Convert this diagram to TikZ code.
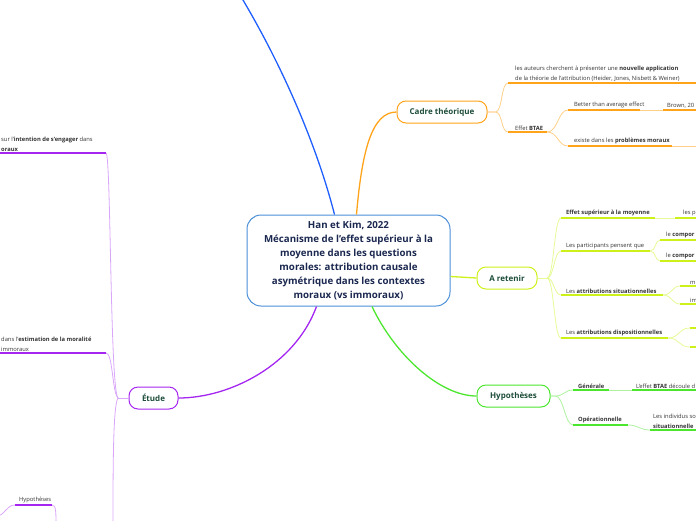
\documentclass[tikz,border=0pt]{standalone}
\usepackage{fontspec}
\setmainfont{Open Sans}
\usetikzlibrary{calc}
\definecolor{cblue}{HTML}{4A90D9}
\definecolor{navy}{HTML}{1B2850}
\definecolor{dgreen}{HTML}{1D4D3A}
\definecolor{txt}{HTML}{333333}
\definecolor{bluel}{HTML}{1F5EFF}
\definecolor{orng}{HTML}{FFA31A}
\definecolor{orngl}{HTML}{FFD08A}
\definecolor{ylw}{HTML}{CCF21A}
\definecolor{ylwl}{HTML}{E6FA96}
\definecolor{grn}{HTML}{4CE62E}
\definecolor{grnl}{HTML}{AEF2A0}
\definecolor{purp}{HTML}{A526F0}
\definecolor{purpl}{HTML}{D9A6FA}
\tikzset{
  mainbox/.style={draw=cblue, line width=1pt, rounded corners=14pt, fill=white,
    minimum width=203pt, minimum height=91pt, align=center, text=navy, inner sep=0pt,
    font=\fontsize{9.7}{14}\selectfont\bfseries},
  branchbox/.style={rounded corners=9pt, fill=white, line width=1pt, minimum height=22pt,
    inner sep=0pt, text=dgreen, font=\fontsize{8}{10}\selectfont\bfseries},
  lbl/.style={anchor=south west, inner sep=0pt, text=txt, align=left,
    font=\fontsize{5.8}{10}\selectfont},
  ul/.style={line width=1.6pt},
  cn/.style={line width=0.8pt},
  mc/.style={line width=1.3pt}
}
\begin{document}
\begin{tikzpicture}[x=1pt,y=-1pt]
\useasboundingbox (0,0) rectangle (696,520);

% ---------------- main nodes
\node[mainbox] (main) at (348.5,260.5) {Han et Kim, 2022\\Mécanisme de l'effet supérieur à la\\moyenne dans les questions\\morales: attribution causale\\asymétrique dans les contextes\\moraux (vs immoraux)};

\node[branchbox, draw=orng, minimum width=90pt] (cadre) at (442,112) {Cadre théorique};
\node[branchbox, draw=ylw, minimum width=60pt] (ret) at (507,278) {A retenir};
\node[branchbox, draw=grn, minimum width=73pt] (hyp) at (513.5,396) {Hypothèses};
\node[branchbox, draw=purp, minimum width=49pt] (etude) at (153.5,398) {Étude};

% ---------------- connectors from center
\coordinate (blueend) at (240,-5);
\draw[bluel, mc] ($(main.north)+(-14,0)$) .. controls (318,150) and (285,70) .. (blueend);
\draw[orng, mc] ($(main.north)+(8,0)$) .. controls (362,150) and (372,112) .. (cadre.west);
\draw[ylw, mc] ($(main.east)+(0,16)$) -- (ret.west);
\draw[grn, mc] ($(main.south)+(23.5,0)$) .. controls (395,355) and (440,396) .. (hyp.west);
\draw[purp, mc] ($(main.south)+(-32,0)$) .. controls (295,365) and (230,398) .. (etude.east);

% ---------------- Cadre theorique
\coordinate (c1a) at (508,83);  \coordinate (c1b) at (700,83);
\coordinate (c2a) at (508,132); \coordinate (c2b) at (547,132);
\coordinate (c21a) at (568,110); \coordinate (c21b) at (640,110);
\coordinate (c21c) at (663,110); \coordinate (c21d) at (700,110);
\coordinate (c22a) at (568,146); \coordinate (c22b) at (672,146); \coordinate (c22c) at (700,146);
\draw[orngl, cn] (cadre.east) -- ++(8,0) .. controls +(7,0) and +(-7,0) .. (c1a);
\draw[orngl, cn] (cadre.east) -- ++(8,0) .. controls +(7,0) and +(-7,0) .. (c2a);
\draw[orngl, cn] (c2b) .. controls +(11,0) and +(-10,0) .. (c21a);
\draw[orngl, cn] (c2b) .. controls +(11,0) and +(-10,0) .. (c22a);
\draw[orngl, cn] (c21b) -- (c21c);
\draw[orngl, cn] (c22b) -- (c22c);
\draw[orng, ul] (c1a) -- (c1b);
\draw[orng, ul] (c2a) -- (c2b);
\draw[orng, ul] (c21a) -- (c21b);
\draw[orng, ul] (c21c) -- (c21d);
\draw[orng, ul] (c22a) -- (c22b);
\node[lbl] (t1) at (515,81.5) {les auteurs cherchent à présenter une \textbf{nouvelle application}\\de la théorie de l'attribution (Heider, Jones, Nisbett \& Weiner)};
\node[lbl] (t2) at (515,130.5) {Effet \textbf{BTAE}};
\node[lbl] (t21) at (574,108.5) {Better than average effect};
\node[lbl] (t21b) at (667,108.5) {Brown, 20};
\node[lbl] (t22) at (574,144.5) {existe dans les \textbf{problèmes moraux}};

% ---------------- A retenir
\coordinate (rs) at (547,278);
\coordinate (r1a) at (561,218); \coordinate (r1b) at (655,218); \coordinate (r1c) at (675,218); \coordinate (r1d) at (700,218);
\coordinate (r2a) at (561,251); \coordinate (r2b) at (650,251);
\coordinate (r21a) at (660,240); \coordinate (r21b) at (700,240);
\coordinate (r22a) at (660,261); \coordinate (r22b) at (700,261);
\coordinate (r3a) at (561,295); \coordinate (r3b) at (663,295);
\coordinate (r31a) at (680,286); \coordinate (r31b) at (700,286);
\coordinate (r32a) at (680,304); \coordinate (r32b) at (700,304);
\coordinate (r4a) at (561,338); \coordinate (r4b) at (668,338);
\coordinate (r41a) at (690,328); \coordinate (r41b) at (700,328);
\coordinate (r42a) at (690,347); \coordinate (r42b) at (700,347);
\draw[ylwl, cn] (ret.east) -- (rs);
\foreach \t in {r1a,r2a,r3a,r4a}{
  \draw[ylwl, cn] (rs) .. controls +(7,0) and +(-7,0) .. (\t);
}
\draw[ylwl, cn] (r1b) -- (r1c);
\draw[ylwl, cn] (r2b) .. controls +(6,0) and +(-5,0) .. (r21a);
\draw[ylwl, cn] (r2b) .. controls +(6,0) and +(-5,0) .. (r22a);
\draw[ylwl, cn] (r3b) .. controls +(9,0) and +(-8,0) .. (r31a);
\draw[ylwl, cn] (r3b) .. controls +(9,0) and +(-8,0) .. (r32a);
\draw[ylwl, cn] (r4b) .. controls +(12,0) and +(-12,0) .. (r41a);
\draw[ylwl, cn] (r4b) .. controls +(12,0) and +(-12,0) .. (r42a);
\foreach \a/\b in {r1a/r1b,r1c/r1d,r2a/r2b,r21a/r21b,r22a/r22b,r3a/r3b,r31a/r31b,r32a/r32b,r4a/r4b,r41a/r41b,r42a/r42b}{
  \draw[ylw, ul] (\a) -- (\b);
}
\node[lbl] (tr1) at (566,216.5) {\textbf{Effet supérieur à la moyenne}};
\node[lbl] (tr1b) at (683,216.5) {les p};
\node[lbl] (tr2) at (566,249.5) {Les participants pensent que};
\node[lbl] (tr21) at (666,238.5) {le \textbf{compor}};
\node[lbl] (tr22) at (666,259.5) {le \textbf{compor}};
\node[lbl] (tr3) at (566,293.5) {Les \textbf{attributions situationnelles}};
\node[lbl] (tr31) at (690,284.5) {m};
\node[lbl] (tr32) at (690,302.5) {im};
\node[lbl] (tr4) at (566,336.5) {Les \textbf{attributions dispositionnelles}};

% ---------------- Hypotheses
\coordinate (h1a) at (573,390); \coordinate (h1b) at (609,390); \coordinate (h1c) at (632,390); \coordinate (h1d) at (700,390);
\coordinate (h2a) at (573,425); \coordinate (h2b) at (628,425); \coordinate (h2c) at (650,430); \coordinate (h2d) at (700,430);
\draw[grnl, cn] (hyp.east) -- ++(5,0) .. controls +(8,0) and +(-8,0) .. (h1a);
\draw[grnl, cn] (hyp.east) -- ++(5,0) .. controls +(8,0) and +(-8,0) .. (h2a);
\draw[grnl, cn] (h1b) -- (h1c);
\draw[grnl, cn] (h2b) .. controls +(10,0) and +(-10,0) .. (h2c);
\foreach \a/\b in {h1a/h1b,h1c/h1d,h2a/h2b,h2c/h2d}{
  \draw[grn, ul] (\a) -- (\b);
}
\node[lbl] (th1) at (578,388.5) {\textbf{Générale}};
\node[lbl] (th1b) at (636,388.5) {L'effet \textbf{BTAE} découle d};
\node[lbl] (th2) at (578,423.5) {\textbf{Opérationnelle}};
\node[lbl] (th2b) at (653,428.5) {Les individus so\\\textbf{situationnelle}};

% ---------------- Etude
\coordinate (es) at (118,398);
\coordinate (e1a) at (-5,153); \coordinate (e1b) at (106,153);
\coordinate (e2a) at (-5,353); \coordinate (e2b) at (106,353);
\coordinate (e3) at (113,525);
\coordinate (g1a) at (15,505); \coordinate (g1b) at (52,505);
\coordinate (g0) at (-5,517); \coordinate (g2) at (56,525);
\draw[purpl, cn] (etude.west) -- (es);
\draw[purpl, cn] (es) .. controls (110,390) and (111,153) .. (e1b);
\draw[purpl, cn] (es) .. controls (112,392) and (113,353) .. (e2b);
\draw[purpl, cn] (es) .. controls (113,405) and (113,470) .. (e3);
\draw[purpl, cn] (g0) .. controls (6,515) and (6,505) .. (g1a);
\draw[purpl, cn] (g1b) .. controls (56,505) and (56,512) .. (g2);
\foreach \a/\b in {e1a/e1b,e2a/e2b,g1a/g1b}{
  \draw[purp, ul] (\a) -- (\b);
}
\node[lbl] (te1) at (1,151.5) {sur l'\textbf{intention de s'engager} dans\\\textbf{oraux}};
\node[lbl] (te2) at (1,351.5) {dans l'\textbf{estimation de la moralité}\\immoraux};
\node[lbl] (tg1) at (19,503.5) {Hypothèses};
\end{tikzpicture}
\end{document}
